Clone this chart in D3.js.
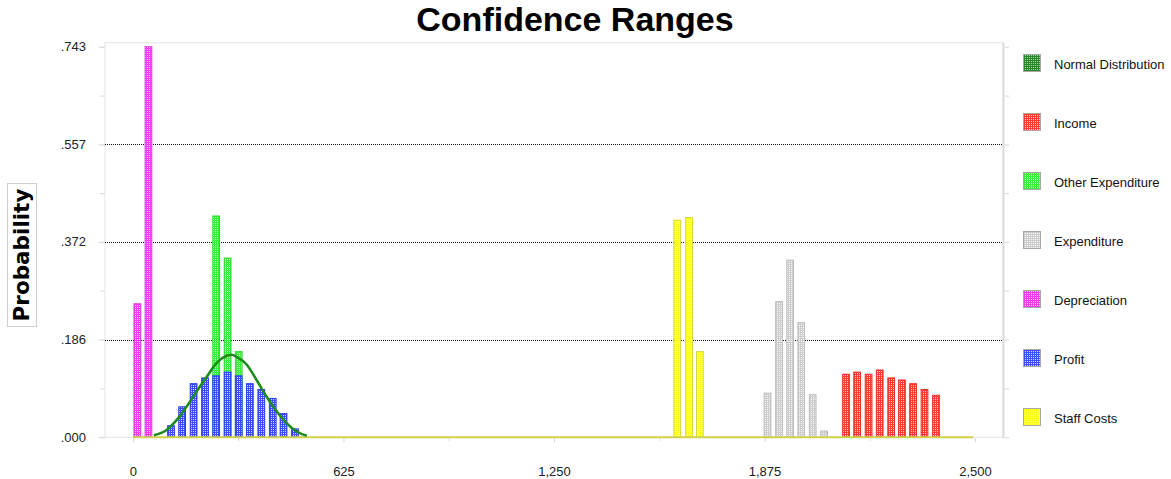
<!DOCTYPE html>
<html>
<head>
<meta charset="utf-8">
<script src="https://cdn.jsdelivr.net/npm/d3@7"></script>
<style>
  body { margin: 0; background: #fff; }
  svg { display: block; font-family: "Liberation Sans", Arial, sans-serif; }
</style>
</head>
<body>
<svg id="chart" width="1171" height="479"></svg>
<script>
// ---- Chart text and axes ----
const chartTitle = "Confidence Ranges";
const yTitle = "Probability";
const xTickValues = [0, 625, 1250, 1875, 2500];
const xTickLabels = ["0", "625", "1,250", "1,875", "2,500"];
const yTickValues = [0, 0.186, 0.372, 0.557, 0.743];
const yTickLabels = [".000", ".186", ".372", ".557", ".743"];

// ---- Legend ----
const seriesNames = ["Normal Distribution", "Income", "Other Expenditure", "Expenditure",
                     "Depreciation", "Profit", "Staff Costs"];
const seriesKeys = ["normal", "income", "otherExp", "expenditure", "depreciation", "profit", "staff"];

// ---- Series values (bin centre, probability) ----
const incomeX = [2117, 2150, 2184, 2217, 2251, 2283, 2316, 2350, 2384];
const incomeP = [0.120, 0.124, 0.120, 0.128, 0.113, 0.109, 0.102, 0.091, 0.080];

const otherExpX = [247, 281, 314];
const otherExpP = [0.421, 0.341, 0.163];

const expenditureX = [1884, 1918, 1951, 1984, 2018, 2052];
const expenditureP = [0.084, 0.258, 0.337, 0.218, 0.081, 0.012];

const depreciationX = [13, 46];
const depreciationP = [0.254, 0.743];

const profitX = [113, 146, 180, 214, 247, 281, 314, 347, 381, 415, 447, 481];
const profitP = [0.022, 0.058, 0.102, 0.113, 0.117, 0.124, 0.117, 0.102, 0.091, 0.074, 0.045, 0.016];

const staffX = [1616, 1651, 1683];
const staffP = [0.413, 0.418, 0.163];

const normalX = [62, 100, 130, 159, 189, 219, 248, 278, 293, 308, 338, 367, 397, 427, 456, 486, 516];
const normalP = [0.004, 0.014, 0.033, 0.058, 0.087, 0.115, 0.141, 0.155, 0.157, 0.153,
                 0.138, 0.109, 0.077, 0.049, 0.027, 0.011, 0.003];

// ---- Styling ----
const palette = {
  normal:       { base: "#2a8a2a", tint: "#9ad49a", edge: "#1f7a1f" },
  income:       { base: "#ff3a30", tint: "#ffd6d2", edge: "#e8302a" },
  otherExp:     { base: "#3cee3c", tint: "#dafcda", edge: "#2ed82e" },
  expenditure:  { base: "#cccccc", tint: "#f8f8f8", edge: "#bdbdbd" },
  depreciation: { base: "#ee3cee", tint: "#fcdafc", edge: "#d83ad8" },
  profit:       { base: "#3a4cff", tint: "#dadfff", edge: "#2a3cf4" },
  staff:        { base: "#ffff22", tint: "#ffffd0", edge: "#d6d640" }
};

const svg = d3.select("#chart");
const plot = { left: 105, top: 42.7, right: 1003, bottom: 437.3 };
const binHalf = 10;

const x = d3.scaleLinear().domain([-83, 2583]).range([plot.left, plot.right]);
const y = d3.scaleLinear().domain([0, 0.743]).range([plot.bottom, 46.7]);

// Dotted fills: a light dot every other pixel
const defs = svg.append("defs");
seriesKeys.forEach(k => {
  const p = defs.append("pattern").attr("id", "pat-" + k)
    .attr("width", 2).attr("height", 2).attr("patternUnits", "userSpaceOnUse");
  p.append("rect").attr("width", 2).attr("height", 2).attr("fill", palette[k].base);
  p.append("rect").attr("x", 1).attr("y", 1).attr("width", 1).attr("height", 1).attr("fill", palette[k].tint);
});

// Title
svg.append("text").attr("x", 575).attr("y", 31).attr("text-anchor", "middle")
  .attr("font-size", 34).attr("font-weight", "bold").attr("fill", "#000").text(chartTitle);

// Plot frame
svg.append("rect").attr("x", plot.left).attr("y", plot.top)
  .attr("width", plot.right - plot.left).attr("height", plot.bottom - plot.top)
  .attr("fill", "none").attr("stroke", "#e6e6e6").attr("stroke-width", 1);
svg.append("line").attr("x1", plot.right + 0.5).attr("x2", plot.right + 0.5)
  .attr("y1", plot.top).attr("y2", plot.bottom + 1).attr("stroke", "#dcdcdc").attr("stroke-width", 2);

// Gridlines (dotted) at inner major ticks
svg.append("g").selectAll("line").data(yTickValues.slice(1, -1)).join("line")
  .attr("x1", plot.left).attr("x2", plot.right)
  .attr("y1", d => Math.round(y(d)) + 0.5).attr("y2", d => Math.round(y(d)) + 0.5)
  .attr("stroke", "#111").attr("stroke-width", 1).attr("stroke-dasharray", "1,1");

// Y axis (left) with labels
const yMinor = d3.range(0, 4).map(i => (yTickValues[i] + yTickValues[i + 1]) / 2);
const yAxis = d3.axisLeft(y).tickValues(yTickValues)
  .tickFormat((d, i) => yTickLabels[i]).tickSize(6).tickPadding(13);
const gy = svg.append("g").attr("transform", `translate(${plot.left},0)`).call(yAxis);
gy.select(".domain").remove();
gy.selectAll(".tick line").attr("stroke", "#cfcfcf");
gy.selectAll(".tick text").attr("font-size", 13).attr("fill", "#222")
  .attr("font-family", "'Liberation Sans', Arial, sans-serif");
svg.append("g").attr("transform", `translate(${plot.left},0)`)
  .call(d3.axisLeft(y).tickValues(yMinor).tickFormat("").tickSize(5))
  .call(g => g.select(".domain").remove())
  .call(g => g.selectAll(".tick line").attr("stroke", "#dadada"));

// Y axis (right) ticks only
svg.append("g").attr("transform", `translate(${plot.right + 2},0)`)
  .call(d3.axisRight(y).tickValues(yTickValues.concat(yMinor)).tickFormat("").tickSize(4))
  .call(g => g.select(".domain").remove())
  .call(g => g.selectAll(".tick line").attr("stroke", "#d6d6d6"));

// X axis
const xMinor = d3.range(0, 4).map(i => (xTickValues[i] + xTickValues[i + 1]) / 2);
const gx = svg.append("g").attr("transform", `translate(0,${plot.bottom + 1})`)
  .call(d3.axisBottom(x).tickValues(xTickValues).tickFormat((d, i) => xTickLabels[i])
    .tickSize(4).tickPadding(24));
gx.select(".domain").remove();
gx.selectAll(".tick line").attr("stroke", "#d6d6d6");
gx.selectAll(".tick text").attr("font-size", 13).attr("fill", "#222")
  .attr("font-family", "'Liberation Sans', Arial, sans-serif");
svg.append("g").attr("transform", `translate(0,${plot.bottom + 1})`)
  .call(d3.axisBottom(x).tickValues(xMinor).tickFormat("").tickSize(3))
  .call(g => g.select(".domain").remove())
  .call(g => g.selectAll(".tick line").attr("stroke", "#dedede"));

// Y axis title in a box
svg.append("rect").attr("x", 7.5).attr("y", 183.5).attr("width", 29).attr("height", 143)
  .attr("fill", "#fff").attr("stroke", "#cfcfcf");
svg.append("text").attr("transform", "translate(29,255) rotate(-90)")
  .attr("text-anchor", "middle").attr("font-family", "'DejaVu Sans', sans-serif")
  .attr("font-weight", "bold").attr("font-size", 21.5).attr("fill", "#000").text(yTitle);

// Bars
function drawBars(key, xs, ps) {
  const data = xs.map((v, i) => ({ x: v, p: ps[i] }));
  svg.append("g").selectAll("rect").data(data).join("rect")
    .attr("x", d => x(d.x - binHalf))
    .attr("width", d => x(d.x + binHalf) - x(d.x - binHalf))
    .attr("y", d => y(d.p))
    .attr("height", d => y(0) - y(d.p))
    .attr("fill", `url(#pat-${key})`)
    .attr("stroke", palette[key].edge).attr("stroke-width", 1);
}
drawBars("staff", staffX, staffP);
drawBars("expenditure", expenditureX, expenditureP);
drawBars("income", incomeX, incomeP);
drawBars("otherExp", otherExpX, otherExpP);
drawBars("depreciation", depreciationX, depreciationP);
drawBars("profit", profitX, profitP);

// Zero baseline across the range
svg.append("line").attr("x1", x(0)).attr("x2", x(2495))
  .attr("y1", y(0)).attr("y2", y(0))
  .attr("stroke", "#d2d24a").attr("stroke-width", 2);

// Normal distribution curve
const normalData = normalX.map((v, i) => ({ x: v, p: normalP[i] }));
svg.append("path").datum(normalData)
  .attr("d", d3.line().x(d => x(d.x)).y(d => y(d.p)).curve(d3.curveMonotoneX))
  .attr("fill", "none").attr("stroke", "#1f8a1f").attr("stroke-width", 2.6)
  .attr("stroke-linejoin", "round");

// Legend
const legend = svg.append("g");
seriesKeys.forEach((k, i) => {
  const cy = 63 + i * 59;
  legend.append("rect").attr("x", 1023.5).attr("y", cy - 8.5).attr("width", 17).attr("height", 17)
    .attr("fill", `url(#pat-${k})`).attr("stroke", "#a8a8a8");
  legend.append("text").attr("x", 1054).attr("y", cy + 1).attr("dominant-baseline", "central")
    .attr("font-size", 13).attr("fill", "#111").text(seriesNames[i]);
});
</script>
</body>
</html>
